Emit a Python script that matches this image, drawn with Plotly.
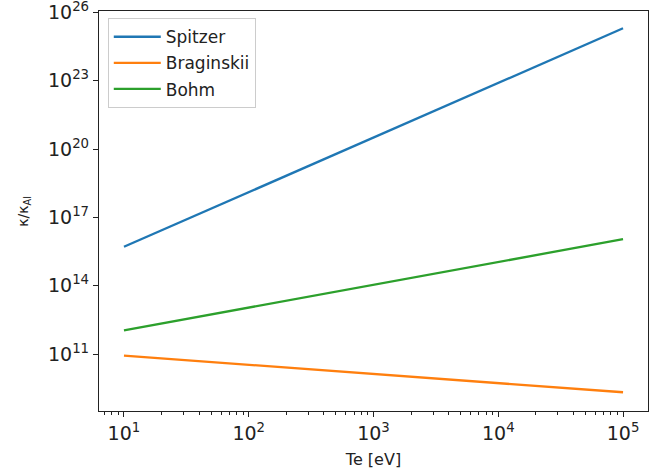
import plotly.graph_objects as go

# Data
te = [10, 100, 1e3, 1e4, 1e5]
spitzer = [5.1e15, 1.3e18, 3.2e20, 8.1e22, 2.0e25]
braginskii = [8.5e10, 3.4e10, 1.35e10, 5.4e9, 2.1e9]
bohm = [1.1e12, 1.1e13, 1.1e14, 1.1e15, 1.1e16]

x_tickvals = [10, 100, 1e3, 1e4, 1e5]
x_ticktext = ["10<sup>1</sup>", "10<sup>2</sup>", "10<sup>3</sup>", "10<sup>4</sup>", "10<sup>5</sup>"]
y_tickvals = [1e11, 1e14, 1e17, 1e20, 1e23, 1e26]
y_ticktext = ["10<sup>11</sup>", "10<sup>14</sup>", "10<sup>17</sup>", "10<sup>20</sup>", "10<sup>23</sup>", "10<sup>26</sup>"]

FONT = "DejaVu Sans"

fig = go.Figure()
for name, ys, col in [("Spitzer", spitzer, "#1f77b4"),
                      ("Braginskii", braginskii, "#ff7f0e"),
                      ("Bohm", bohm, "#2ca02c")]:
    fig.add_trace(go.Scatter(x=te, y=ys, mode="lines", name=name, legendgroup=name,
                             line=dict(color=col, width=2.3)))

fig.update_layout(
    width=660, height=470,
    margin=dict(l=99, r=12, t=11, b=59, autoexpand=False),
    paper_bgcolor="white", plot_bgcolor="white",
    font=dict(family=FONT, color="#222"),
    showlegend=True,
    legend=dict(x=0.016, y=0.982, xanchor="left", yanchor="top",
                bgcolor="rgba(255,255,255,0.8)", bordercolor="#cccccc", borderwidth=1,
                font=dict(size=17, family=FONT, color="#222"),
                tracegroupgap=1, itemwidth=47),
    annotations=[dict(text="κ/κ<sub>Al</sub>", textangle=-90, showarrow=False,
                      xref="paper", yref="paper", x=-0.137, y=0.5,
                      xanchor="center", yanchor="middle",
                      font=dict(size=14, family=FONT, color="#222"))],
)

fig.update_xaxes(
    type="log", range=[0.8, 5.2], automargin=False,
    tickvals=x_tickvals, ticktext=x_ticktext, ticklabeloverflow="allow",
    ticks="outside", ticklen=5, tickwidth=1.2, tickcolor="#222",
    showline=True, linecolor="#222", linewidth=1.3, mirror=True,
    showgrid=False, zeroline=False,
    tickfont=dict(size=19, family=FONT, color="#222"),
    title=dict(text="Te [eV]", font=dict(size=16, family=FONT, color="#222"), standoff=10),
    minor=dict(ticks="outside", ticklen=3, tickwidth=1, tickcolor="#222", dtick="D1", showgrid=False),
)
fig.update_yaxes(
    type="log", range=[8.5, 26.06], automargin=False,
    tickvals=y_tickvals, ticktext=y_ticktext, ticklabeloverflow="allow",
    ticks="outside", ticklen=5, tickwidth=1.2, tickcolor="#222",
    showline=True, linecolor="#222", linewidth=1.3, mirror=True,
    showgrid=False, zeroline=False,
    tickfont=dict(size=19, family=FONT, color="#222"),
)

fig.write_html("out.html")
